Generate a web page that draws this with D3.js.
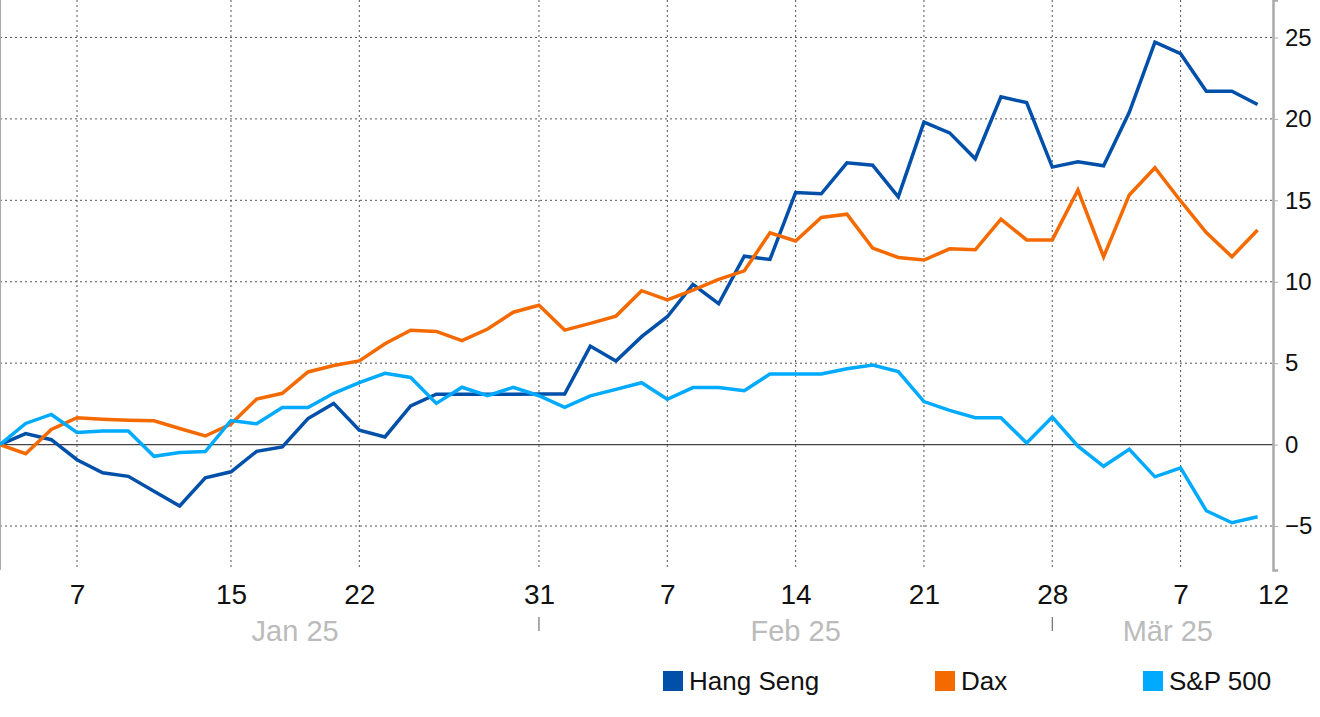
<!DOCTYPE html>
<html><head><meta charset="utf-8">
<script src="https://cdn.jsdelivr.net/npm/d3@7"></script>
<style>body{margin:0;background:#fff}svg{display:block;font-family:"Liberation Sans",Arial,sans-serif}</style>
</head><body><svg id="c" width="1320" height="717"></svg>
<script>
const hangSeng=[0,0.68,0.3,-0.93,-1.73,-1.95,-2.86,-3.77,-2.04,-1.67,-0.41,-0.14,1.6,2.53,0.88,0.47,2.37,3.09,3.09,3.09,3.09,3.1,3.1,6.05,5.13,6.63,7.85,9.84,8.65,11.57,11.37,15.48,15.4,17.3,17.16,15.21,19.8,19.14,17.55,21.35,21.0,17.04,17.37,17.12,20.4,24.71,24.0,21.7,21.7,20.88];
const dax=[0,-0.56,0.93,1.65,1.56,1.5,1.46,0.99,0.53,1.26,2.8,3.15,4.46,4.86,5.14,6.19,7.02,6.95,6.38,7.1,8.13,8.56,7.03,7.44,7.89,9.45,8.88,9.49,10.14,10.67,13.0,12.5,13.95,14.15,12.07,11.49,11.33,12.02,11.96,13.84,12.57,12.57,15.63,11.53,15.33,17.0,14.96,13.02,11.53,13.18];
const sp500=[0,1.3,1.85,0.74,0.84,0.84,-0.72,-0.49,-0.43,1.48,1.28,2.28,2.28,3.15,3.81,4.38,4.12,2.53,3.52,3.0,3.52,3.0,2.29,2.99,3.39,3.8,2.78,3.5,3.5,3.31,4.34,4.34,4.34,4.66,4.89,4.48,2.64,2.1,1.65,1.65,0.1,1.69,-0.1,-1.33,-0.29,-1.98,-1.43,-4.06,-4.8,-4.43];
const dayTickIdx=[3,9,14,21,26,31,36,41,46,49.6];
const dayTickLabels=["7","15","22","31","7","14","21","28","7","12"];
const monthLabels=["Jan 25","Feb 25","Mär 25"];
const monthCenterIdx=[11.5,31,45.5];
const monthSepIdx=[21,41];
const yTicks=[-5,0,5,10,15,20,25];
const seriesNames=["Hang Seng","Dax","S&P 500"];
const colors=["#0050aa","#f56a00","#00aaff"];

const svg=d3.select("#c");
const W=1273,H=570;
const x=d3.scaleLinear().domain([0,49.6]).range([0,W]);
const y=d3.scaleLinear().domain([-7.7,27.3]).range([H,0]);

svg.append("g").selectAll("line").data(yTicks.filter(d=>d!==0)).join("line")
 .attr("x1",0).attr("x2",W).attr("y1",d=>y(d)).attr("y2",d=>y(d))
 .attr("stroke","#555").attr("stroke-width",1).attr("stroke-dasharray","2,3");
svg.append("g").selectAll("line").data(dayTickIdx.slice(0,-1)).join("line")
 .attr("x1",d=>x(d)).attr("x2",d=>x(d)).attr("y1",0).attr("y2",H)
 .attr("stroke","#555").attr("stroke-width",1).attr("stroke-dasharray","2,3");
svg.append("line").attr("x1",0).attr("x2",W).attr("y1",y(0)).attr("y2",y(0)).attr("stroke","#444").attr("stroke-width",1.2);
svg.append("line").attr("x1",0.5).attr("x2",0.5).attr("y1",0).attr("y2",H).attr("stroke","#aaa");

const ya=svg.append("g").attr("transform",`translate(${W},0)`)
 .call(d3.axisRight(y).tickValues(yTicks).tickSize(5).tickPadding(6).tickFormat(d3.format("d")));
ya.select(".domain").attr("stroke","#aaa").attr("stroke-width",2.5);
ya.selectAll(".tick line").attr("stroke","#aaa");
ya.selectAll("text").attr("font-size",24).attr("fill","#111").attr("dx",1);

const xa=svg.append("g").attr("transform",`translate(0,${H})`)
 .call(d3.axisBottom(x).tickValues(dayTickIdx).tickSize(0).tickPadding(14).tickFormat((d,i)=>dayTickLabels[i]));
xa.select(".domain").remove();
xa.selectAll("text").attr("font-size",28).attr("fill","#111");

svg.append("g").selectAll("text").data(monthLabels).join("text")
 .attr("x",(d,i)=>x(monthCenterIdx[i])).attr("y",641).attr("text-anchor","middle")
 .attr("font-size",29).attr("fill","#bbb").text(d=>d);
svg.append("g").selectAll("line").data(monthSepIdx).join("line")
 .attr("x1",d=>x(d)).attr("x2",d=>x(d)).attr("y1",617).attr("y2",631).attr("stroke","#555");

const line=d3.line().x((d,i)=>x(i)).y(d=>y(d));
[hangSeng,dax,sp500].forEach((s,k)=>{
 svg.append("path").datum(s).attr("d",line).attr("fill","none")
  .attr("stroke",colors[k]).attr("stroke-width",3.5).attr("stroke-linejoin","miter");
});
svg.selectAll("path").filter((d,i)=>i===0).raise();

const legX=[663,935,1143];
const lg=svg.append("g").selectAll("g").data(seriesNames).join("g").attr("transform",(d,i)=>`translate(${legX[i]},671)`);
lg.append("rect").attr("width",20).attr("height",20).attr("fill",(d,i)=>colors[i]);
lg.append("text").attr("x",26).attr("y",19).attr("font-size",26).attr("fill","#111").text(d=>d);
</script></body></html>
